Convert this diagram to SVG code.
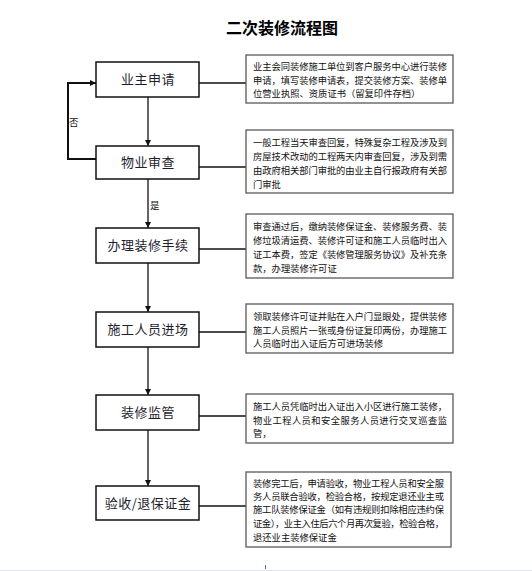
<svg xmlns="http://www.w3.org/2000/svg" width="532" height="571" viewBox="0 0 532 571">
<style>
.bg{fill:#fff}
.step rect{fill:#fff;stroke:#111;stroke-width:1.5}
.step text{font-family:"Noto Sans CJK SC","Noto Sans",sans-serif;font-size:13px;fill:#1e1e2e;text-anchor:middle;letter-spacing:0.5px}
.note rect{fill:#fff;stroke:#5a5a5a;stroke-width:1.3}
.note text{font-family:"Noto Sans CJK SC","Noto Sans",sans-serif;font-size:9.3px;fill:#111}
.conn line,.conn polyline{stroke:#111;stroke-width:1.3;fill:none}
.lbl{font-family:"Noto Sans CJK SC","Noto Sans",sans-serif;font-size:9.5px;fill:#111}
.title{font-family:"Noto Sans CJK SC","Noto Sans",sans-serif;font-size:16px;font-weight:bold;fill:#000;text-anchor:middle}
</style>
<defs>
<marker id="arr" viewBox="0 0 8 8" refX="8" refY="4" markerWidth="6" markerHeight="6" orient="auto" markerUnits="userSpaceOnUse">
<path d="M0,0 L8,4 L0,8 Z" fill="#111"/>
</marker>
</defs>
<rect class="bg" x="0" y="0" width="532" height="571"/>
<text class="title" x="282" y="34">二次装修流程图</text>

<g class="conn">
<line x1="148" y1="97" x2="148" y2="146" marker-end="url(#arr)"/>
<line x1="148" y1="179" x2="148" y2="228" marker-end="url(#arr)"/>
<line x1="148" y1="263" x2="148" y2="312" marker-end="url(#arr)"/>
<line x1="148" y1="347" x2="148" y2="395" marker-end="url(#arr)"/>
<line x1="148" y1="430" x2="148" y2="486" marker-end="url(#arr)"/>
<polyline points="96,159 68,159 68,83 96,83" style="stroke-width:2" marker-end="url(#arr)"/>
<line x1="199" y1="83" x2="246" y2="83"/>
<line x1="199" y1="167" x2="246" y2="167"/>
<line x1="199" y1="249" x2="246" y2="249"/>
<line x1="199" y1="332" x2="246" y2="332"/>
<line x1="199" y1="416" x2="246" y2="416"/>
<line x1="199" y1="506" x2="246" y2="506"/>
</g>
<text class="lbl" x="69" y="126">否</text>
<text class="lbl" x="150" y="209">是</text>

<g id="s1" class="step"><rect x="96" y="62" width="103" height="35"/><text x="148" y="84">业主申请</text></g>
<g id="s2" class="step"><rect x="96" y="146" width="103" height="33"/><text x="148" y="167">物业审查</text></g>
<g id="s3" class="step"><rect x="96" y="228" width="103" height="35"/><text x="148" y="250">办理装修手续</text></g>
<g id="s4" class="step"><rect x="96" y="312" width="103" height="35"/><text x="148" y="334">施工人员进场</text></g>
<g id="s5" class="step"><rect x="96" y="395" width="103" height="35"/><text x="148" y="417">装修监管</text></g>
<g id="s6" class="step"><rect x="96" y="486" width="103" height="34"/><text x="148" y="508">验收/退保证金</text></g>

<g id="n1" class="note"><rect x="246" y="55" width="207" height="48"/>
<text x="253" y="70" textLength="194" lengthAdjust="spacing">业主会同装修施工单位到客户服务中心进行装修</text>
<text x="253" y="84" textLength="194" lengthAdjust="spacing">申请，填写装修申请表，提交装修方案、装修单</text>
<text x="253" y="97">位营业执照、资质证书（留复印件存档）</text>
</g>
<g id="n2" class="note"><rect x="246" y="130" width="207" height="63"/>
<text x="253" y="146" textLength="194" lengthAdjust="spacing">一般工程当天审查回复，特殊复杂工程及涉及到</text>
<text x="253" y="160" textLength="194" lengthAdjust="spacing">房屋技术改动的工程两天内审查回复，涉及到需</text>
<text x="253" y="174" textLength="194" lengthAdjust="spacing">由政府相关部门审批的由业主自行报政府有关部</text>
<text x="253" y="188">门审批</text>
</g>
<g id="n3" class="note"><rect x="246" y="214" width="207" height="64"/>
<text x="253" y="230" textLength="194" lengthAdjust="spacing">审查通过后，缴纳装修保证金、装修服务费、装</text>
<text x="253" y="244" textLength="194" lengthAdjust="spacing">修垃圾清运费、装修许可证和施工人员临时出入</text>
<text x="253" y="258" textLength="194" lengthAdjust="spacing">证工本费，签定《装修管理服务协议》及补充条</text>
<text x="253" y="272">款，办理装修许可证</text>
</g>
<g id="n4" class="note"><rect x="246" y="304" width="207" height="49"/>
<text x="253" y="320" textLength="194" lengthAdjust="spacing">领取装修许可证并贴在入户门显眼处，提供装修</text>
<text x="253" y="334" textLength="194" lengthAdjust="spacing">施工人员照片一张或身份证复印两份，办理施工</text>
<text x="253" y="347">人员临时出入证后方可进场装修</text>
</g>
<g id="n5" class="note"><rect x="246" y="394" width="207" height="49"/>
<text x="253" y="410" textLength="194" lengthAdjust="spacing">施工人员凭临时出入证出入小区进行施工装修，</text>
<text x="253" y="424" textLength="194" lengthAdjust="spacing">物业工程人员和安全服务人员进行交叉巡查监</text>
<text x="253" y="437">管，</text>
</g>
<g id="n6" class="note"><rect x="246" y="472" width="205" height="75"/>
<text x="253" y="487" textLength="191" lengthAdjust="spacing">装修完工后，申请验收，物业工程人员和安全服</text>
<text x="253" y="500" textLength="191" lengthAdjust="spacing">务人员联合验收，检验合格，按规定退还业主或</text>
<text x="253" y="513" textLength="191" lengthAdjust="spacing">施工队装修保证金（如有违规则扣除相应违约保</text>
<text x="253" y="527" textLength="191" lengthAdjust="spacing">证金），业主入住后六个月再次复验，检验合格，</text>
<text x="253" y="541">退还业主装修保证金</text>
</g>
<line x1="265.5" y1="565" x2="265.5" y2="569" stroke="#3a6fd0" stroke-width="1"/>
<line x1="0" y1="570.5" x2="532" y2="570.5" stroke="#e4e4ec" stroke-width="1"/>
</svg>
